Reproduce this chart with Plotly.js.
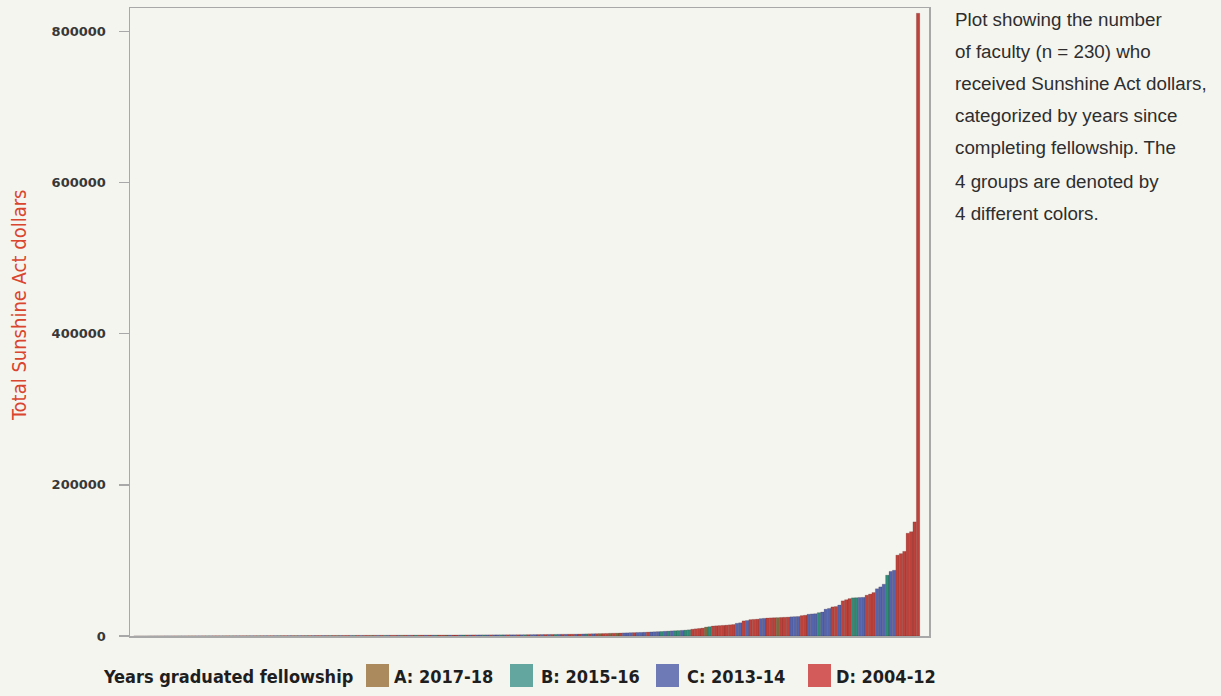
<!DOCTYPE html>
<html>
<head>
<meta charset="utf-8">
<script src="https://cdn.plot.ly/plotly-3.0.1.min.js"></script>
<style>
  html, body { margin: 0; padding: 0; background: #f5f5f0; }
  #chart { width: 1221px; height: 696px; }
</style>
</head>
<body>
<div id="chart"></div>
<script>
// ---------- DATA ----------
// Total Sunshine Act dollars per faculty member (n = 230), sorted ascending
const dollars = [
  15, 25, 40, 45, 55, 60, 75, 80, 95, 100,
  110, 125, 130, 140, 150, 165, 175, 180, 190, 200,
  215, 225, 235, 250, 260, 270, 280, 300, 310, 320,
  335, 350, 360, 375, 390, 400, 410, 425, 440, 450,
  465, 480, 500, 510, 525, 540, 550, 570, 585, 600,
  620, 640, 650, 670, 690, 700,
  720, 740, 750, 770, 790, 800, 820, 840, 850, 870,
  880, 900, 920, 940, 950, 970, 990, 1000, 1020, 1040,
  1050, 1070, 1090, 1100, 1120, 1140, 1150, 1170, 1190, 1200,
  1220, 1240, 1250, 1270, 1290, 1300, 1320, 1340, 1350, 1370,
  1390, 1400, 1420, 1440, 1450, 1470, 1490, 1500, 1520, 1540,
  1560, 1580, 1600, 1620, 1640, 1660, 1680, 1700,
  1750, 1800, 1850, 1900, 1950, 2000, 2050, 2100, 2150, 2200,
  2250, 2300, 2350, 2400, 2450, 2500, 2600, 2700, 2800, 2900,
  3000, 3100,
  3200, 3300, 3400, 3600, 3700, 3800, 4000,
  4100, 4200, 4400, 4500, 4700, 4800, 5000, 5200, 5400, 5600,
  5800, 6000, 6300, 6500, 6800, 7000, 7200, 7500, 7800, 8200,
  9000, 9500, 10000, 10500,
  11800, 12300,
  13200, 13500, 13800, 14100, 14400, 14800, 15200,
  16800, 17500,
  20000, 20500,
  21700, 22000, 22300,
  23000, 23400,
  23800, 24000, 24200,
  24300,
  24600, 24800, 25000,
  25400, 25600, 25800,
  27000, 27500,
  28800, 29200, 29500,
  30900, 31800, 35500, 36500, 38500, 39000, 41000, 46500, 48000, 49500,
  50500, 50700, 51000, 51200, 54000, 55500, 57500, 62500, 65000, 68500,
  80500, 85500, 87000, 107000, 109000, 112000, 136000, 138000, 151000, 824000
];

// Group (years since completing fellowship) of each faculty member, same order
const groupOf = [
  "DCDCBDCADC", "CDDBCDADCC", "DBCDDCADBD", "CDDACDBDCD", "DCBDDCDACD",
  "BDCDDCDBDA", "CDDCBDCDDA", "DCDBCDDCAD", "CDBDDCDCBD", "DACDDCBDCD",
  "CCBCDCCBCD", "CCDCBDCCDC", "DCDBCDCDDC", "DCBDCD",
  "ADDADAD", "CCCDCCCDCC", "CBCBCBBCBB", "DDDD", "AB", "DDDDDDD",
  "CC", "DC", "DDD", "CC", "DDD", "A", "DDD", "CCC", "DD", "CCC",
  "BCCCDDCDDDBBCCDDDCCCBCCDDDDDDD"
].join("").split("");

// Legend categories
const groupKeys   = ["A", "B", "C", "D"];
const groupLabels = ["A: 2017-18", "B: 2015-16", "C: 2013-14", "D: 2004-12"];
const legendTitle = "Years graduated fellowship";
const yTitle = "Total Sunshine Act dollars";

const yTickVals = [0, 200000, 400000, 600000, 800000];
const yTickText = ["0", "200000", "400000", "600000", "800000"];

const noteLines = [
  "Plot showing the number",
  "of faculty (n = 230) who",
  "received Sunshine Act dollars,",
  "categorized by years since",
  "completing fellowship. The",
  "4 groups are denoted by",
  "4 different colors."
];

// ---------- STYLE ----------
const barColors    = { A: "#7d6a3c", B: "#2f8c78", C: "#5465ad", D: "#be423c" };
const swatchColors = { A: "#ab8a5e", B: "#63a59f", C: "#6d7ab5", D: "#d35b59" };
const bg = "#f5f5f0";

// plot area in pixels
const W = 1221, H = 696;
const L = 130, R = 929, T = 8, B = 636;
const px2x = p => (p - L) / (R - L);
const px2y = p => (B - p) / (B - T);

const idx = dollars.map((_, i) => i);

const trace = {
  type: "bar",
  x: idx,
  y: dollars,
  marker: {
    color: groupOf.map(g => barColors[g]),
    line: { color: "rgba(60,25,25,0.35)", width: 0.5 }
  },
  showlegend: false,
  hoverinfo: "y"
};

// manual legend (large square swatches like the reference)
const swatchLeft = [366, 510, 656, 808];
const textLeft   = [392, 539, 685, 834];
const shapes = groupKeys.map((g, k) => ({
  type: "rect", xref: "paper", yref: "paper",
  x0: px2x(swatchLeft[k]), x1: px2x(swatchLeft[k] + 23),
  y0: px2y(687), y1: px2y(664),
  fillcolor: swatchColors[g], line: { width: 0 }
}));

const condensed = "DejaVu Sans Condensed, DejaVu Sans, sans-serif";
const legendFont = { family: condensed, size: 18, color: "#1e1e1e", weight: "bold" };

const annotations = [];
// y-axis title (placed as annotation so it sits where the reference has it)
annotations.push({
  text: yTitle, xref: "paper", yref: "paper",
  x: px2x(19), y: px2y(306), xanchor: "center", yanchor: "middle",
  textangle: -90, showarrow: false,
  font: { family: condensed, size: 20, color: "#d9452f" }
});
annotations.push({
  text: legendTitle, xref: "paper", yref: "paper",
  x: px2x(101), y: px2y(676), xanchor: "left", yanchor: "middle",
  showarrow: false, font: legendFont
});
groupLabels.forEach((lab, k) => annotations.push({
  text: lab, xref: "paper", yref: "paper",
  x: px2x(textLeft[k]), y: px2y(676), xanchor: "left", yanchor: "middle",
  showarrow: false, font: legendFont
}));
const noteY = [19, 51, 84, 116, 148, 181, 213];
noteLines.forEach((ln, k) => annotations.push({
  text: ln, xref: "paper", yref: "paper",
  x: px2x(953), y: px2y(noteY[k]), xanchor: "left", yanchor: "middle",
  showarrow: false,
  font: { family: "Liberation Sans, Arial, sans-serif", size: 18.8, color: "#2e2e2e" }
}));

const layout = {
  width: W, height: H,
  paper_bgcolor: bg, plot_bgcolor: bg,
  margin: { l: L, r: W - R, t: T, b: H - B, pad: 0 },
  bargap: 0,
  showlegend: false,
  xaxis: {
    range: [-1.6, 232.2],
    showticklabels: false, ticks: "",
    showgrid: false, zeroline: false,
    showline: true, mirror: true, linecolor: "#a8a8a8", linewidth: 1.5
  },
  yaxis: {
    range: [0, 831000],
    tickvals: yTickVals, ticktext: yTickText,
    ticks: "outside", ticklen: 10, tickcolor: "#a8a8a8", tickwidth: 1.5,
    ticklabelstandoff: 10,
    tickfont: { family: "DejaVu Sans, Verdana, sans-serif", size: 13, color: "#383838", weight: "bold" },
    showgrid: false, zeroline: false,
    showline: true, mirror: true, linecolor: "#a8a8a8", linewidth: 1.5
  },
  shapes: shapes,
  annotations: annotations
};

Plotly.newPlot("chart", [trace], layout, { displayModeBar: false, staticPlot: true });
</script>
</body>
</html>
